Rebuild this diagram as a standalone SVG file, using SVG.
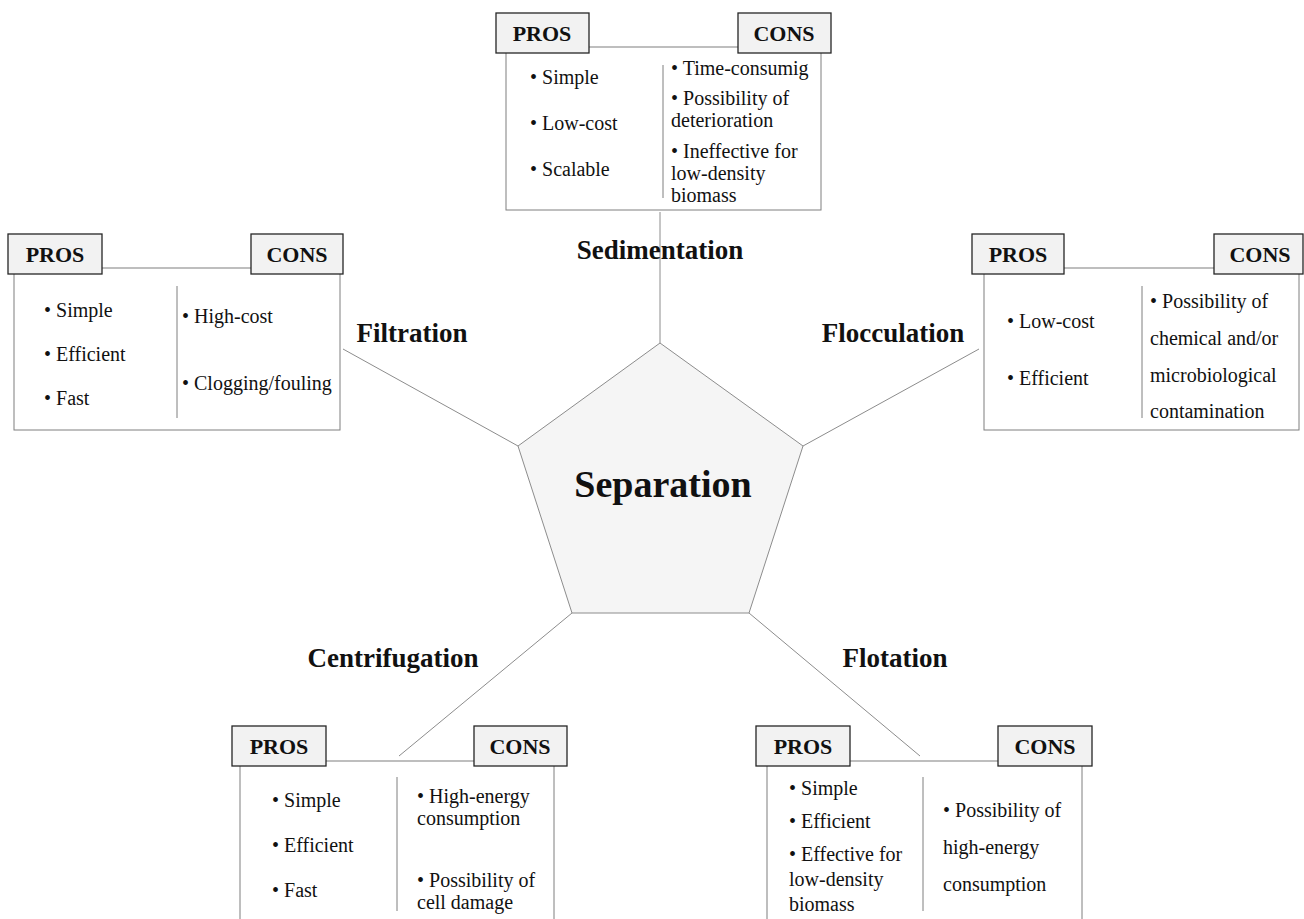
<svg xmlns="http://www.w3.org/2000/svg" width="1304" height="919" viewBox="0 0 1304 919">
<style>
.bg{fill:#ffffff}
.conn{stroke:#8c8c8c;stroke-width:1;fill:none}
.panel{fill:#ffffff;stroke:#7f7f7f;stroke-width:1}
.div{stroke:#7f7f7f;stroke-width:1}
.tag{fill:#f2f2f2;stroke:#262626;stroke-width:1.3}
.tagt{font-family:"Liberation Serif",serif;font-weight:bold;font-size:22px;fill:#111;text-anchor:middle}
.item{font-family:"Liberation Serif",serif;font-size:20px;fill:#111}
.lbl{font-family:"Liberation Serif",serif;font-weight:bold;font-size:27px;fill:#111;text-anchor:middle}
.core{fill:#f5f5f5;stroke:#8c8c8c;stroke-width:1}
.coret{font-family:"Liberation Serif",serif;font-weight:bold;font-size:38px;fill:#111;text-anchor:middle}
</style>
<rect class="bg" x="0" y="0" width="1304" height="919"/>
<g id="connectors">
<line class="conn" x1="660" y1="343" x2="660" y2="212"/>
<line class="conn" x1="518" y1="446" x2="343" y2="349"/>
<line class="conn" x1="803" y1="446" x2="979" y2="349"/>
<line class="conn" x1="572" y1="613" x2="399" y2="756"/>
<line class="conn" x1="749" y1="613" x2="920" y2="756"/>
</g>
<g id="separation">
<polygon class="core" points="660,343 803,446 749,613 572,613 518,446"/>
<text class="coret" x="663" y="497">Separation</text>
</g>
<g id="sedimentation">
<rect class="panel" x="506" y="47" width="315" height="163"/>
<line class="div" x1="663" y1="65" x2="663" y2="198"/>
<rect class="tag" x="496" y="13" width="93" height="40"/>
<text class="tagt" x="542" y="41">PROS</text>
<rect class="tag" x="738" y="13" width="93" height="40"/>
<text class="tagt" x="784" y="41">CONS</text>
<text class="item" x="530" y="84">• Simple</text>
<text class="item" x="530" y="130">• Low-cost</text>
<text class="item" x="530" y="176">• Scalable</text>
<text class="item" x="671" y="75">• Time-consumig</text>
<text class="item" x="671" y="105">• Possibility of</text>
<text class="item" x="671" y="127">deterioration</text>
<text class="item" x="671" y="158">• Ineffective for</text>
<text class="item" x="671" y="180">low-density</text>
<text class="item" x="671" y="202">biomass</text>
<text class="lbl" x="660" y="259">Sedimentation</text>
</g>
<g id="filtration">
<rect class="panel" x="14" y="268" width="326" height="162"/>
<line class="div" x1="177" y1="286" x2="177" y2="418"/>
<rect class="tag" x="8" y="234" width="94" height="40"/>
<text class="tagt" x="55" y="262">PROS</text>
<rect class="tag" x="251" y="234" width="92" height="40"/>
<text class="tagt" x="297" y="262">CONS</text>
<text class="item" x="44" y="317">• Simple</text>
<text class="item" x="44" y="361">• Efficient</text>
<text class="item" x="44" y="405">• Fast</text>
<text class="item" x="182" y="323">• High-cost</text>
<text class="item" x="182" y="390">• Clogging/fouling</text>
<text class="lbl" x="412" y="342">Filtration</text>
</g>
<g id="flocculation">
<rect class="panel" x="984" y="268" width="315" height="162"/>
<line class="div" x1="1142" y1="286" x2="1142" y2="418"/>
<rect class="tag" x="972" y="234" width="92" height="40"/>
<text class="tagt" x="1018" y="262">PROS</text>
<rect class="tag" x="1214" y="234" width="89" height="40"/>
<text class="tagt" x="1260" y="262">CONS</text>
<text class="item" x="1007" y="328">• Low-cost</text>
<text class="item" x="1007" y="385">• Efficient</text>
<text class="item" x="1150" y="308">• Possibility of</text>
<text class="item" x="1150" y="345">chemical and/or</text>
<text class="item" x="1150" y="382">microbiological</text>
<text class="item" x="1150" y="418">contamination</text>
<text class="lbl" x="893" y="342">Flocculation</text>
</g>
<g id="centrifugation">
<rect class="panel" x="240" y="761" width="314" height="170"/>
<line class="div" x1="397" y1="777" x2="397" y2="911"/>
<rect class="tag" x="232" y="726" width="94" height="40"/>
<text class="tagt" x="279" y="754">PROS</text>
<rect class="tag" x="474" y="726" width="93" height="40"/>
<text class="tagt" x="520" y="754">CONS</text>
<text class="item" x="272" y="807">• Simple</text>
<text class="item" x="272" y="852">• Efficient</text>
<text class="item" x="272" y="897">• Fast</text>
<text class="item" x="417" y="803">• High-energy</text>
<text class="item" x="417" y="825">consumption</text>
<text class="item" x="417" y="887">• Possibility of</text>
<text class="item" x="417" y="909">cell damage</text>
<text class="lbl" x="393" y="667">Centrifugation</text>
</g>
<g id="flotation">
<rect class="panel" x="767" y="761" width="315" height="170"/>
<line class="div" x1="923" y1="777" x2="923" y2="911"/>
<rect class="tag" x="756" y="726" width="94" height="40"/>
<text class="tagt" x="803" y="754">PROS</text>
<rect class="tag" x="998" y="726" width="94" height="40"/>
<text class="tagt" x="1045" y="754">CONS</text>
<text class="item" x="789" y="795">• Simple</text>
<text class="item" x="789" y="828">• Efficient</text>
<text class="item" x="789" y="861">• Effective for</text>
<text class="item" x="789" y="886">low-density</text>
<text class="item" x="789" y="911">biomass</text>
<text class="item" x="943" y="817">• Possibility of</text>
<text class="item" x="943" y="854">high-energy</text>
<text class="item" x="943" y="891">consumption</text>
<text class="lbl" x="895" y="667">Flotation</text>
</g>
</svg>
